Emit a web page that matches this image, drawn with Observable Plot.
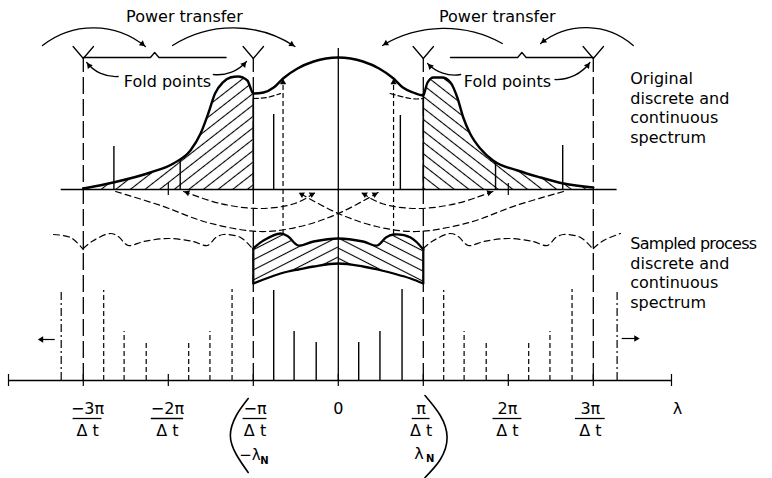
<!DOCTYPE html>
<html>
<head>
<meta charset="utf-8">
<script src="https://cdn.jsdelivr.net/npm/d3@7"></script>
<script src="https://cdn.jsdelivr.net/npm/@observablehq/plot@0.6"></script>
<style>
  html, body { margin: 0; padding: 0; background: #fff; }
  #chart svg { display: block; }
</style>
</head>
<body>
<div id="chart"></div>
<script>
// Horizontal unit: π/Δt.  Vertical unit: points above the λ axis.
const xDomain = [-3.88, 3.92], xRange = [8, 671];
const yDomain = [-98, 380], yRange = [478, 0];
const originalBase = 191;          // baseline of the original spectrum
const period = 2;                  // sampled spectrum repeats every 2π/Δt

// Original continuous spectrum: [λ, height above its baseline]
const originalCurve = [
  [-3.00, 1], [-2.65, 7], [-2.21, 17], [-1.94, 26], [-1.74, 39], [-1.62, 56], [-1.53, 76],
  [-1.45, 96], [-1.36, 107], [-1.27, 112], [-1.18, 113], [-1.07, 109], [-1.01, 97],
  [-1.00, 96], [-0.88, 97], [-0.76, 102], [-0.65, 111], [-0.48, 121], [-0.29, 128], [0, 132],
  [0.29, 128], [0.48, 121], [0.65, 111], [0.76, 102], [0.88, 97], [1.00, 94],
  [1.01, 96], [1.05, 107], [1.12, 112], [1.22, 112], [1.32, 107], [1.40, 92], [1.47, 72],
  [1.55, 56], [1.67, 41], [1.82, 29], [2.11, 19], [2.38, 12], [2.65, 6], [3.00, 2]
];
// Original discrete components: [λ, height]
const originalLines = [[-2.64, 43], [-1.86, 30], [-0.76, 75], [0.73, 74], [1.85, 28], [2.64, 44]];
// Folded hump contributions near ±λN: [λ, height]
const foldedHumpLeft = [[-1.00, 91], [-0.84, 92], [-0.68, 96]];
const foldedHumpRight = [[0.61, 96], [0.85, 91], [1.00, 91]];

// Sampled continuous spectrum in the principal band: [λ, lower, upper]
const sampledLambda = [-1, -0.88, -0.68, -0.59, -0.47, -0.29, 0, 0.29, 0.46, 0.56, 0.65, 0.85, 1];
const sampledLower  = [97, 101, 107, 109, 111, 114, 117, 114, 111, 109, 107, 102, 97];
const sampledUpper  = [132, 140, 147, 144, 135, 139, 142, 139, 135, 143, 146, 143, 131];
// Sampled discrete components in the principal band: [λ, height]
const sampledLines = [[-0.76, 90], [-0.52, 49], [-0.26, 38], [0.24, 38], [0.49, 49], [0.75, 91]];
const outerLines = [[-3.26, 88], [3.28, 90]];

// Folding paths from the tails into the principal band: [λ, y]
const crossArcLeft  = [[-2.62, 189], [-2.09, 175], [-1.54, 158], [-0.92, 149], [-0.45, 154], [0, 167], [0.47, 188]];
const crossArcRight = [[2.65, 189], [2.09, 175], [1.54, 158], [0.92, 149], [0.45, 154], [0, 167], [-0.47, 188]];
const shortArcLeft  = [[-1.82, 189], [-1.39, 177], [-0.92, 172], [-0.51, 177], [-0.27, 188]];
const shortArcRight = [[1.82, 189], [1.39, 177], [0.92, 172], [0.51, 177], [0.27, 188]];

// Curved annotation arrows: [λ1, y1, λ2, y2, bend°]
const powerArrows = [
  [-3.48, 335, -2.27, 334, 39], [-1.95, 335, -0.51, 334, 33],
  [1.93, 337, 0.52, 335, -30], [3.47, 335, 2.38, 337, -40]
];
const foldArrows = [
  [-2.59, 304, -2.96, 318, 28], [-1.47, 306, -1.08, 319, -28],
  [1.44, 306, 1.05, 317, 28], [2.55, 301, 2.96, 318, -28]
];

const foldPoints = [-3, -1, 1, 3];
const braceCenters = [-2.16, 2.16];
const axisTicks = [-3.88, -3, -2, -1, 0, 1, 2, 3, 3.92];
const tickNumerators = ["−3π", "−2π", "−π", "π", "2π", "3π"];
const tickBars = [[-3.12, -2.78], [-2.20, -1.82], [-1.12, -0.84], [0.87, 1.08], [1.82, 2.16], [2.79, 3.14]];
const leftParen = [[-1.06, -18], [-1.20, -35], [-1.27, -55], [-1.20, -74], [-1.06, -92]];
const rightParen = [[1.02, -15], [1.20, -35], [1.28, -57], [1.20, -79], [1.02, -97]];

// ---- helpers -------------------------------------------------------------
const kx = (xRange[1] - xRange[0]) / (xDomain[1] - xDomain[0]);
const ky = (yRange[0] - yRange[1]) / (yDomain[1] - yDomain[0]);
const pts = (a) => a.map(([u, y]) => ({u, y}));
const lift = (a) => a.map(([u, h]) => ({u, y: originalBase + h}));
function headAt(u, y, angle, back = 4) {
  return {u: u - Math.cos(angle) * back / kx, y: y + Math.sin(angle) * back / ky, rotate: angle * 180 / Math.PI + 90};
}
function headFrom(p, q) {
  return headAt(q[0], q[1], Math.atan2(-(q[1] - p[1]) * ky, (q[0] - p[0]) * kx));
}
function arcHead([u1, y1, u2, y2, bend]) {
  const chord = Math.atan2(-(y2 - y1) * ky, (u2 - u1) * kx);
  return headAt(u2, y2, chord + bend * Math.PI / 180);
}

const original = lift(originalCurve);
const leftTail = original.filter(d => d.u <= -1.0);
const rightTail = original.filter(d => d.u >= 1.0);
const envelope = sampledLambda.map((u, i) => ({u, lo: sampledLower[i], hi: sampledUpper[i]}));
const topCopies = [-2, -1, 1, 2].flatMap(k =>
  sampledLambda.map((u, i) => ({u: u + k * period, y: sampledUpper[i], k}))
    .filter(d => d.u >= -3.4 && d.u <= 3.4));
const lineCopies = [-1, 1].flatMap(k => sampledLines.map(([u, h]) => ({u: u + k * period, h})));
const heads = [
  ...[crossArcLeft, crossArcRight].map(a => headFrom(a[a.length - 2], a[a.length - 1])),
  ...[shortArcLeft, shortArcRight].flatMap(a => [headFrom(a[a.length - 2], a[a.length - 1]), headFrom(a[1], a[0])]),
  ...[...powerArrows, ...foldArrows].map(arcHead),
  headFrom([-0.65, 290], [-0.65, 302]), headFrom([0.65, 290], [0.65, 302]),
  headFrom([-3.33, 41], [-3.54, 41]), headFrom([3.34, 42], [3.55, 42])
];

const font = "DejaVu Sans";
const txt = (data, o) => Plot.text(data, {fontFamily: font, fontSize: 16, fill: "black", ...o});

const marks = [
  // hatched tails that fold back into the principal band
  Plot.areaY(leftTail, {x: "u", y1: originalBase, y2: "y", fill: "url(#hatchUp)", curve: "monotone-x"}),
  Plot.areaY(rightTail, {x: "u", y1: originalBase, y2: "y", fill: "url(#hatchDown)", curve: "monotone-x"}),
  // hatched sampled spectrum
  Plot.areaY(envelope.filter(d => d.u <= 0), {x: "u", y1: "lo", y2: "hi", fill: "url(#hatchUpFlat)", curve: "catmull-rom"}),
  Plot.areaY(envelope.filter(d => d.u >= 0), {x: "u", y1: "lo", y2: "hi", fill: "url(#hatchDownFlat)", curve: "catmull-rom"}),

  // fold lines at ±λN and ±3λN
  Plot.ruleX(foldPoints, {y1: 0, y2: 322, stroke: "black", strokeWidth: 1.3, strokeDasharray: "17,5"}),
  Plot.ruleX(foldPoints.filter(u => Math.abs(u) === 1), {y1: originalBase, y2: originalBase + 96, stroke: "black", strokeWidth: 1.6}),
  Plot.ruleX(foldPoints.filter(u => Math.abs(u) === 1), {y1: 97, y2: 132, stroke: "black", strokeWidth: 2.2}),
  // brackets over the fold intervals
  ...braceCenters.map(c => Plot.line(pts([[c - 0.84, 323], [c - 0.05, 323], [c, 328], [c + 0.05, 323], [c + 0.84, 323]]), {x: "u", y: "y", stroke: "black", strokeWidth: 1.3})),
  ...foldPoints.map(u => Plot.line(pts([[u - 0.12, 334], [u, 322], [u + 0.12, 334]]), {x: "u", y: "y", stroke: "black", strokeWidth: 1.3})),

  // zero frequency line
  Plot.ruleX([0], {y1: 0, y2: 332, stroke: "black", strokeWidth: 1.3}),

  // baselines and axis
  Plot.ruleY([originalBase], {x1: -3.26, x2: 3.28, stroke: "black", strokeWidth: 1.7}),
  Plot.ruleX([-2, 2], {y1: originalBase - 6, y2: originalBase + 6, stroke: "black", strokeWidth: 1.2}),
  Plot.ruleY([0], {x1: xDomain[0], x2: xDomain[1], stroke: "black", strokeWidth: 1.3}),
  Plot.ruleX(axisTicks, {y1: -6, y2: 6, stroke: "black", strokeWidth: 1.2}),

  // original spectrum
  Plot.line(original, {x: "u", y: "y", stroke: "black", strokeWidth: 2.4, curve: "monotone-x"}),
  Plot.ruleX(originalLines, {x: d => d[0], y1: originalBase, y2: d => originalBase + d[1], stroke: "black", strokeWidth: 1.4}),
  Plot.line(lift(foldedHumpLeft), {x: "u", y: "y", stroke: "black", strokeWidth: 1.2, strokeDasharray: "5,3", curve: "natural"}),
  Plot.line(lift(foldedHumpRight), {x: "u", y: "y", stroke: "black", strokeWidth: 1.2, strokeDasharray: "5,3", curve: "natural"}),
  Plot.ruleX([-0.65, 0.65], {y1: 146, y2: 298, stroke: "black", strokeWidth: 1.2, strokeDasharray: "5,3"}),

  // folding paths
  ...[crossArcLeft, crossArcRight, shortArcLeft, shortArcRight].map(a =>
    Plot.line(pts(a), {x: "u", y: "y", stroke: "black", strokeWidth: 1.2, strokeDasharray: "6,4", curve: "catmull-rom"})),

  // sampled spectrum: principal band solid, periodic copies dashed
  Plot.line(envelope, {x: "u", y: "hi", stroke: "black", strokeWidth: 2.3, curve: "catmull-rom"}),
  Plot.line(envelope, {x: "u", y: "lo", stroke: "black", strokeWidth: 2.3, curve: "catmull-rom"}),
  Plot.line(topCopies, {x: "u", y: "y", z: "k", stroke: "black", strokeWidth: 1.2, strokeDasharray: "6,4", curve: "catmull-rom"}),
  Plot.ruleX(sampledLines, {x: d => d[0], y1: 0, y2: d => d[1], stroke: "black", strokeWidth: 1.4}),
  Plot.ruleX(lineCopies, {x: "u", y1: 0, y2: "h", stroke: "black", strokeWidth: 1.2, strokeDasharray: "5,3"}),
  Plot.ruleX(outerLines, {x: d => d[0], y1: 0, y2: d => d[1], stroke: "black", strokeWidth: 1.2, strokeDasharray: "8,3,2,3"}),
  Plot.ruleY([41], {x1: -3.33, x2: -3.50, stroke: "black", strokeWidth: 1.2}),
  Plot.ruleY([42], {x1: 3.34, x2: 3.51, stroke: "black", strokeWidth: 1.2}),

  // curved annotation arrows
  ...[...powerArrows, ...foldArrows].map(([x1, y1, x2, y2, bend]) =>
    Plot.arrow([{x1, y1, x2, y2}], {x1: "x1", y1: "y1", x2: "x2", y2: "y2", bend, headLength: 0, stroke: "black", strokeWidth: 1.3})),
  Plot.dot(heads, {x: "u", y: "y", symbol: "triangle2", r: 3, rotate: "rotate", fill: "black"}),

  // parentheses round ±λN labels
  Plot.line(pts(leftParen), {x: "u", y: "y", stroke: "black", strokeWidth: 1.6, curve: "natural"}),
  Plot.line(pts(rightParen), {x: "u", y: "y", stroke: "black", strokeWidth: 1.6, curve: "natural"}),

  // text
  txt([[-1.81, 364, "Power transfer"], [1.87, 364, "Power transfer"]], {x: d => d[0], y: d => d[1], text: d => d[2]}),
  txt([[-2.01, 299, "Fold points"], [1.99, 299, "Fold points"]], {x: d => d[0], y: d => d[1], text: d => d[2]}),
  txt([[3.435, 310, "Original\ndiscrete and\ncontinuous\nspectrum"], [3.435, 145, "Sampled process\ndiscrete and\ncontinuous\nspectrum"]],
    {x: d => d[0], y: d => d[1], text: d => d[2], textAnchor: "start", lineAnchor: "top", lineHeight: 1.22}),
  Plot.ruleY(tickBars, {x1: d => d[0], x2: d => d[1], y: -38, stroke: "black", strokeWidth: 1.3}),
  txt(tickBars, {x: d => (d[0] + d[1]) / 2, y: -28, text: (d, i) => tickNumerators[i]}),
  txt(tickBars, {x: d => (d[0] + d[1]) / 2, y: -50, text: () => "Δ t"}),
  txt([[0, -28, "0"], [3.99, -28, "λ"], [0.95, -73, "λ"]], {x: d => d[0], y: d => d[1], text: d => d[2]}),
  txt([[-1.04, -75, "−λ"]], {x: d => d[0], y: d => d[1], text: d => d[2], fontSize: 15}),
  txt([[-0.87, -80, "N"], [1.08, -78.5, "N"]], {x: d => d[0], y: d => d[1], text: d => d[2], fontSize: 10, fontWeight: "bold"})
];

const svg = Plot.plot({
  width: 772, height: 478, margin: 0,
  x: {domain: xDomain, range: xRange, axis: null},
  y: {domain: yDomain, range: yRange, axis: null},
  style: {background: "white", fontFamily: font, color: "black"},
  marks
});

// hatch fills
const ns = "http://www.w3.org/2000/svg";
const defs = document.createElementNS(ns, "defs");
for (const [id, angle, gap] of [["hatchUp", -38, 9], ["hatchDown", 38, 9], ["hatchUpFlat", -27, 9], ["hatchDownFlat", 27, 9]]) {
  const p = document.createElementNS(ns, "pattern");
  p.setAttribute("id", id);
  p.setAttribute("patternUnits", "userSpaceOnUse");
  p.setAttribute("width", gap);
  p.setAttribute("height", gap);
  p.setAttribute("patternTransform", `rotate(${angle})`);
  const l = document.createElementNS(ns, "line");
  l.setAttribute("x1", 0); l.setAttribute("x2", gap);
  l.setAttribute("y1", gap / 2); l.setAttribute("y2", gap / 2);
  l.setAttribute("stroke", "black"); l.setAttribute("stroke-width", 1.1);
  p.appendChild(l);
  defs.appendChild(p);
}
svg.insertBefore(defs, svg.firstChild);
d3.select(svg).selectAll("tspan, text").each(function () {
  if (this.textContent === "Sampled process") this.setAttribute("letter-spacing", "-0.7");
});
document.getElementById("chart").appendChild(svg);
</script>
</body>
</html>
